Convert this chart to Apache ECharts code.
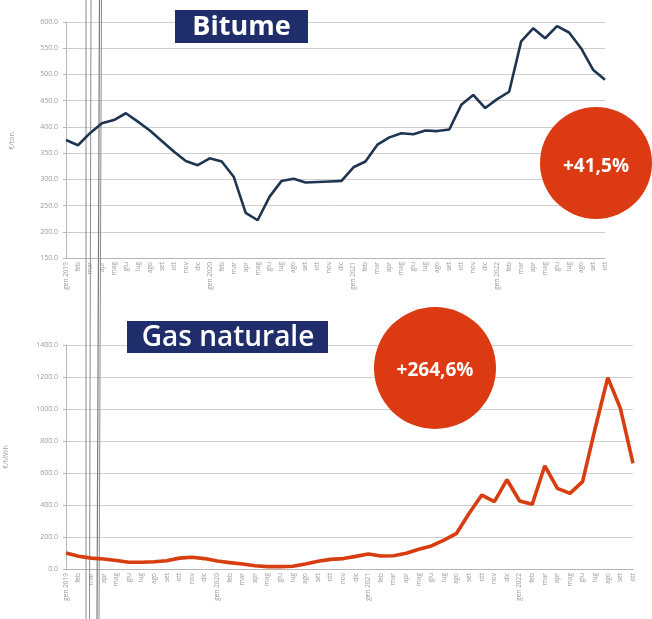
<!DOCTYPE html>
<html>
<head>
<meta charset="utf-8">
<script src="https://cdn.jsdelivr.net/npm/echarts@6/dist/echarts.min.js"></script>
<style>
html,body{margin:0;padding:0;background:#fff;}
#chart{width:652px;height:619px;}
</style>
</head>
<body>
<div id="chart"></div>
<script>
var categories = [
  'gen 2019','feb','mar','apr','mag','giu','lug','ago','set','ott','nov','dic',
  'gen 2020','feb','mar','apr','mag','giu','lug','ago','set','ott','nov','dic',
  'gen 2021','feb','mar','apr','mag','giu','lug','ago','set','ott','nov','dic',
  'gen 2022','feb','mar','apr','mag','giu','lug','ago','set','ott'
];
var bitumeValues = [
  375,365,388,407,413,426,410,393,373,353,335,327,
  340,334,305,236,222,267,297,301,294,295,296,297,
  323,334,366,380,388,386,393,392,395,442,461,436,
  453,467,563,588,569,592,580,550,509,490
];
var gasValues = [
  100,80,68,62,53,42,42,45,52,68,73,65,
  50,40,31,20,15,15,17,31,48,60,65,79,
  94,81,83,98,123,144,181,223,348,462,421,558,
  425,404,645,504,473,546,880,1196,1004,660
];
var bitumeTicks = [150,200,250,300,350,400,450,500,550,600];
var gasTicks = [0,200,400,600,800,1000,1200,1400];
var titles = ['Bitume','Gas naturale'];
var badges = ['+41,5%','+264,6%'];
var yNames = ['€/ton.','€/MWh'];

var chart = echarts.init(document.getElementById('chart'), null, {renderer:'canvas'});
var fontFam = '"Open Sans", "DejaVu Sans", sans-serif';
var lblColor = '#9a9a9a';
function xAxis(gi){
  return {
    type:'category', gridIndex:gi, data:categories, boundaryGap:false,
    axisLine:{lineStyle:{color:'#b5b5b5',width:1}},
    axisTick:{show:false},
    axisLabel:{rotate:90, interval:0, fontSize:6.5, color:lblColor, fontFamily:fontFam, margin:4}
  };
}
function yAxis(gi, ticks, name, gap){
  return {
    type:'value', gridIndex:gi, min:ticks[0], max:ticks[ticks.length-1], interval:ticks[1]-ticks[0],
    name:name, nameLocation:'middle', nameGap:gap, nameRotate:90,
    nameTextStyle:{fontSize:7, color:'#a0a0a0', fontFamily:fontFam},
    axisLine:{show:true, lineStyle:{color:'#b5b5b5'}},
    axisTick:{show:true, length:3, lineStyle:{color:'#b5b5b5'}},
    splitLine:{lineStyle:{color:'#cfcfcf', width:1}},
    axisLabel:{fontSize:7, color:lblColor, fontFamily:fontFam, margin:8,
      formatter:function(v){return v.toFixed(1);}}
  };
}
var option = {
  animation:false,
  backgroundColor:'#ffffff',
  grid:[
    {left:66, top:22, width:539, height:236, outerBoundsMode:'none', containLabel:false},
    {left:66, top:345, width:567, height:224, outerBoundsMode:'none', containLabel:false}
  ],
  xAxis:[xAxis(0), xAxis(1)],
  yAxis:[yAxis(0, bitumeTicks, yNames[0], 51), yAxis(1, gasTicks, yNames[1], 57)],
  series:[
    {type:'line', xAxisIndex:0, yAxisIndex:0, data:bitumeValues, symbol:'none',
     lineStyle:{color:'#1d3550', width:2.6}, z:3},
    {type:'line', xAxisIndex:1, yAxisIndex:1, data:gasValues, symbol:'none',
     lineStyle:{color:'#d83d10', width:3.6}, z:3}
  ],
  graphic:[
    {type:'line', z:1, shape:{x1:86,y1:0,x2:86,y2:619}, style:{stroke:'#8c8c8c', lineWidth:1}},
    {type:'line', z:1, shape:{x1:91,y1:0,x2:89.5,y2:619}, style:{stroke:'#8c8c8c', lineWidth:1}},
    {type:'line', z:1, shape:{x1:99.5,y1:0,x2:97,y2:619}, style:{stroke:'#7a7a7a', lineWidth:1.2}},
    {type:'line', z:1, shape:{x1:101.5,y1:0,x2:99,y2:619}, style:{stroke:'#8c8c8c', lineWidth:1}},
    {type:'rect', z:50, shape:{x:175,y:10,width:133,height:33}, style:{fill:'#1f2d6b'}},
    {type:'text', z:51, x:241.5, y:27, style:{text:titles[0], fill:'#ffffff', font:'bold 27px "Open Sans", sans-serif', align:'center', verticalAlign:'middle'}},
    {type:'rect', z:50, shape:{x:127,y:321,width:201,height:32}, style:{fill:'#1f2d6b'}},
    {type:'text', z:51, x:228, y:338, style:{text:titles[1], fill:'#ffffff', font:'600 28px "Open Sans", sans-serif', align:'center', verticalAlign:'middle'}},
    {type:'circle', z:50, shape:{cx:596,cy:163,r:56}, style:{fill:'#db3a12'}},
    {type:'text', z:51, x:596, y:167, style:{text:badges[0], fill:'#ffffff', font:'bold 19px "Open Sans", sans-serif', align:'center', verticalAlign:'middle'}},
    {type:'circle', z:50, shape:{cx:435,cy:368,r:61}, style:{fill:'#db3a12'}},
    {type:'text', z:51, x:435, y:371, style:{text:badges[1], fill:'#ffffff', font:'bold 19px "Open Sans", sans-serif', align:'center', verticalAlign:'middle'}}
  ]
};
chart.setOption(option);
</script>
</body>
</html>
